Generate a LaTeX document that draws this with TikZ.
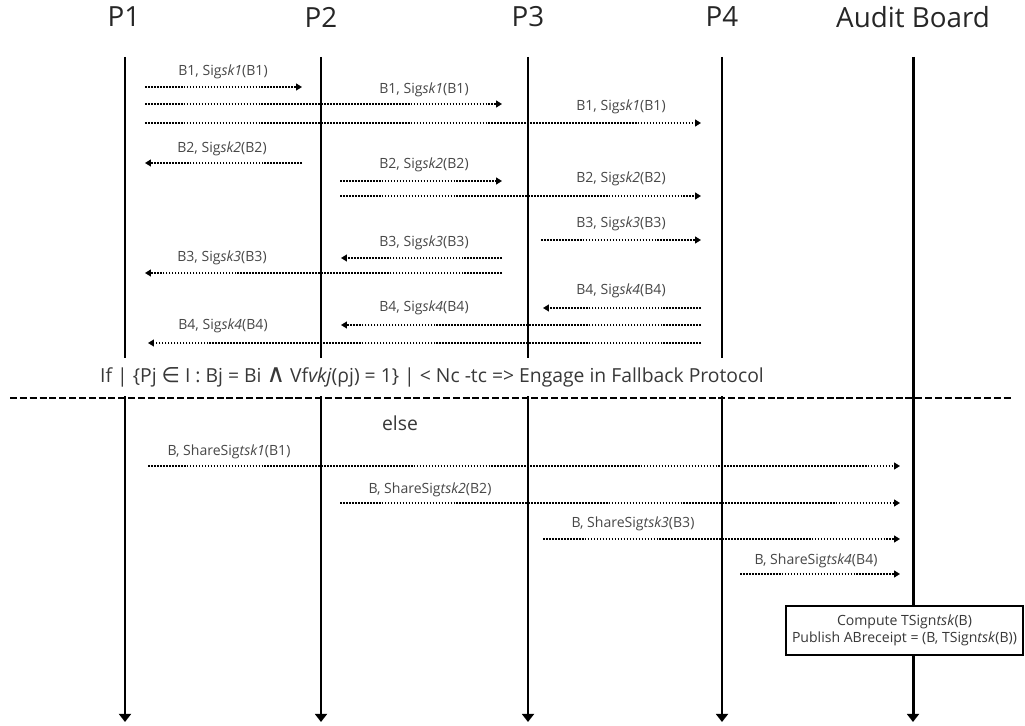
\documentclass[tikz,border=0pt]{standalone}
\usepackage{fontspec}
\setmainfont{Open Sans}
\newfontfamily\symf{DejaVu Sans}
\usetikzlibrary{arrows.meta}

% one message: id, y, x from, x to, label x, label y, label text
\newcommand\msgarrow[7]{%
  \coordinate (m#1a) at (#3,#2);
  \coordinate (m#1b) at (#4,#2);
  \draw[msgline] (m#1a) -- (m#1b);
  \node[msglabel] (l#1) at (#5,#6) {#7};}

\begin{document}
\begin{tikzpicture}[x=0.02cm,y=-0.02cm,
  head/.style={font=\fontsize{15.8}{18}\selectfont, text=black!85, inner sep=0pt},
  lifeline/.style={line width=1.7pt, -{Triangle[length=4.6pt,width=6.8pt]}},
  msgline/.style={line width=0.95pt, dash pattern=on 0.95pt off 0.75pt,
    -{Triangle[length=3.3pt,width=3.8pt]}},
  msglabel/.style={font=\fontsize{8}{9}\selectfont, text=black!72, inner sep=0pt},
  note/.style={font=\fontsize{11}{13}\selectfont, text=black!78, inner sep=0pt},
  resultbox/.style={draw, line width=0.7pt, fill=white, align=center,
    font=\fontsize{8}{9.3}\selectfont, text=black!78, inner xsep=2pt, inner ysep=2pt},
]
\useasboundingbox (0,0) rectangle (1025,726);

% participants and their lifelines
\node[head] (p1) at (124,17) {P1};
\node[head] (p2) at (321,17) {P2};
\node[head] (p3) at (528,17) {P3};
\node[head] (p4) at (722,17) {P4};
\node[head] (ab) at (913,17) {Audit Board};
\foreach \n/\x in {p1/125,p2/321,p3/528,p4/722,ab/913}{
  \coordinate (\n top) at (\x,57);
  \coordinate (\n bot) at (\x,722);
  \draw[lifeline] (\n top) -- (\n bot);
}

% signed ballots exchanged between the parties
\msgarrow{1}{87}{145}{302}{223}{72}{B1, Sig\textit{sk1}(B1)}
\msgarrow{2}{104}{145}{502}{424}{90}{B1, Sig\textit{sk1}(B1)}
\msgarrow{3}{123}{145}{701}{621}{107}{B1, Sig\textit{sk1}(B1)}
\msgarrow{4}{163}{302}{145}{222}{149}{B2, Sig\textit{sk2}(B2)}
\msgarrow{5}{181}{340}{502}{424}{165}{B2, Sig\textit{sk2}(B2)}
\msgarrow{6}{196}{340}{701}{621}{179}{B2, Sig\textit{sk2}(B2)}
\msgarrow{7}{240}{541}{701}{621}{224}{B3, Sig\textit{sk3}(B3)}
\msgarrow{8}{258}{502}{341}{424}{243}{B3, Sig\textit{sk3}(B3)}
\msgarrow{9}{273}{502}{145}{222}{258}{B3, Sig\textit{sk3}(B3)}
\msgarrow{10}{308}{701}{543}{621}{291}{B4, Sig\textit{sk4}(B4)}
\msgarrow{11}{325}{701}{341}{424}{308}{B4, Sig\textit{sk4}(B4)}
\msgarrow{12}{343}{701}{148}{223}{326}{B4, Sig\textit{sk4}(B4)}

% fallback condition (white band over the lifelines) and separator
\node[note, fill=white, inner xsep=3pt, minimum height=38*0.02cm] (cond) at (432,377)
  {If | \{Pj {\symf\fontsize{12}{13}\selectfont ∈} I : Bj = Bi {\symf\fontsize{14.5}{13}\selectfont ∧} Vf\textit{vkj}(ρj) = 1\} | < Nc -tc => Engage in Fallback Protocol};
\coordinate (sepL) at (10,398);
\coordinate (sepR) at (1012,398);
\draw[line width=1.1pt, dash pattern=on 4pt off 1.6pt] (sepL) -- (sepR);
\node[note] (else) at (400,423) {else};

% signature shares sent to the audit board
\msgarrow{13}{466}{148}{900}{229}{452}{B, ShareSig\textit{tsk1}(B1)}
\msgarrow{14}{503}{340}{900}{430}{490}{B, ShareSig\textit{tsk2}(B2)}
\msgarrow{15}{539}{543}{900}{633}{524}{B, ShareSig\textit{tsk3}(B3)}
\msgarrow{16}{574}{740}{900}{816}{561}{B, ShareSig\textit{tsk4}(B4)}

% audit board result
\node[resultbox, minimum width=237*0.02cm, minimum height=49*0.02cm] (tsign) at (904.5,630.5)
  {Compute TSign\textit{tsk}(B)\\Publish ABreceipt = (B, TSign\textit{tsk}(B))};
\end{tikzpicture}
\end{document}
